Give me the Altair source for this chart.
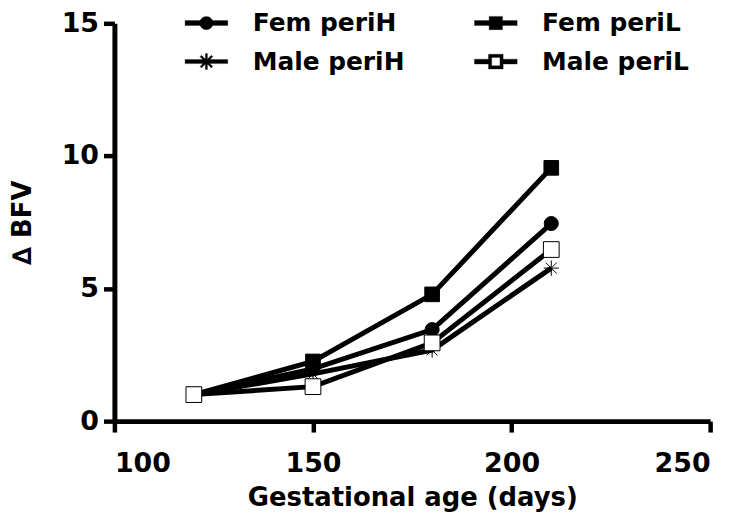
import altair as alt
import pandas as pd

ages = [120, 150, 180, 210]
series_names = ["Fem periH", "Fem periL", "Male periH", "Male periL"]
fem_periH = [1.0, 1.97, 3.45, 7.45]
fem_periL = [1.0, 2.25, 4.78, 9.55]
male_periH = [1.0, 1.78, 2.68, 5.77]
male_periL = [1.0, 1.3, 2.95, 6.47]

x_ticks = [100, 150, 200, 250]
y_ticks = [0, 5, 10, 15]

rows = []
for name, vals in zip(series_names, [fem_periH, fem_periL, male_periH, male_periL]):
    for a, v in zip(ages, vals):
        rows.append({"age": a, "bfv": v, "series": name})
df = pd.DataFrame(rows)

FONT = "DejaVu Sans"

star = "M-1,0H1M0,-1V1M-0.72,-0.72L0.72,0.72M-0.72,0.72L0.72,-0.72"
marker_shapes = ["circle", "square", star, "square"]
marker_fills = ["black", "black", "black", "white"]
marker_sizes = [200, 250, 210, 215]
marker_strokes = [1, 1, 3.2, 3.5]

# legend glyphs: line through the marker, all drawn as filled outlines
L, t = 3.2, 0.37
bar = f"M-{L},-{t}H{L}V{t}H-{L}Z"
filled_star = ("M-0.15,-1.2H0.15V1.2H-0.15Z"
               "M-0.744,-0.956L0.956,0.744L0.744,0.956L-0.956,-0.744Z"
               "M-0.744,0.956L-0.956,0.744L0.744,-0.956L0.956,-0.744Z")
legend_shapes = [
    bar + "M-1,0A1,1 0 1,1 1,0A1,1 0 1,1 -1,0Z",
    bar + "M-1,-1H1V1H-1Z",
    f"M-{L},-0.3H{L}V0.3H-{L}Z" + filled_star,
    f"M-{L},-{t}H-1.1V{t}H-{L}Z M1.1,-{t}H{L}V{t}H1.1Z"
    "M-1.1,-1.1H1.1V1.1H-1.1Z M-0.62,-0.62V0.62H0.62V-0.62Z",
]
legend_colors = ["black", "black", "black", "black"]

x = alt.X("age:Q", scale=alt.Scale(domain=[100, 250], nice=False),
          axis=alt.Axis(values=x_ticks, title="Gestational age (days)", grid=False,
                        labelPadding=19, titlePadding=8))
y = alt.Y("bfv:Q", scale=alt.Scale(domain=[0, 15], nice=False),
          axis=alt.Axis(values=y_ticks, title="\u2206 BFV", grid=False,
                        labelPadding=5, titlePadding=26))

lines = alt.Chart(df).mark_line(color="black", strokeWidth=5).encode(
    x=x, y=y, detail="series:N"
)

points = alt.Chart(df).mark_point(filled=False, stroke="black", opacity=1).encode(
    x=x, y=y,
    shape=alt.Shape("series:N", scale=alt.Scale(domain=series_names, range=marker_shapes), legend=None),
    fill=alt.Fill("series:N", scale=alt.Scale(domain=series_names, range=marker_fills), legend=None),
    size=alt.Size("series:N", scale=alt.Scale(domain=series_names, range=marker_sizes), legend=None),
    strokeWidth=alt.StrokeWidth("series:N", scale=alt.Scale(domain=series_names, range=marker_strokes), legend=None),
)

legend_props = dict(
    title=None, orient="none", legendX=80, legendY=-13,
    direction="horizontal", columns=2,
    symbolOpacity=1, symbolStrokeColor="black", symbolStrokeWidth=0.3,
    labelFont=FONT, labelFontSize=25, labelFontWeight="bold",
    labelColor="black", labelOffset=34, columnPadding=69,
    rowPadding=13, symbolSize=180, labelLimit=300,
)

legend_layer = alt.Chart(df).transform_filter("false").mark_point(size=180, strokeWidth=0.3).encode(
    x=x, y=y,
    shape=alt.Shape("series:N", scale=alt.Scale(domain=series_names, range=legend_shapes),
                    legend=alt.Legend(**legend_props)),
    fill=alt.Fill("series:N", scale=alt.Scale(domain=series_names, range=legend_colors),
                  legend=alt.Legend(**legend_props)),
    stroke=alt.Stroke("series:N", scale=alt.Scale(domain=series_names, range=legend_colors),
                      legend=alt.Legend(**legend_props)),
)

chart = alt.layer(lines, points, legend_layer).resolve_scale(
    shape="independent", fill="independent", size="independent",
    strokeWidth="independent", stroke="independent"
).properties(
    width=599, height=400,
    autosize=alt.AutoSizeParams(type="none"),
    padding={"left": 107, "top": 14, "right": 24, "bottom": 95},
).configure_view(stroke=None).configure_axis(
    domainColor="black", domainWidth=5, tickColor="black", tickWidth=4.5, tickSize=11,
    labelFont=FONT, labelFontSize=27, labelFontWeight="bold", labelColor="black",
    titleFont=FONT, titleFontSize=26, titleFontWeight="bold", titleColor="black",
)

chart.save("out.html", embed_options={"renderer": "svg", "actions": False})
